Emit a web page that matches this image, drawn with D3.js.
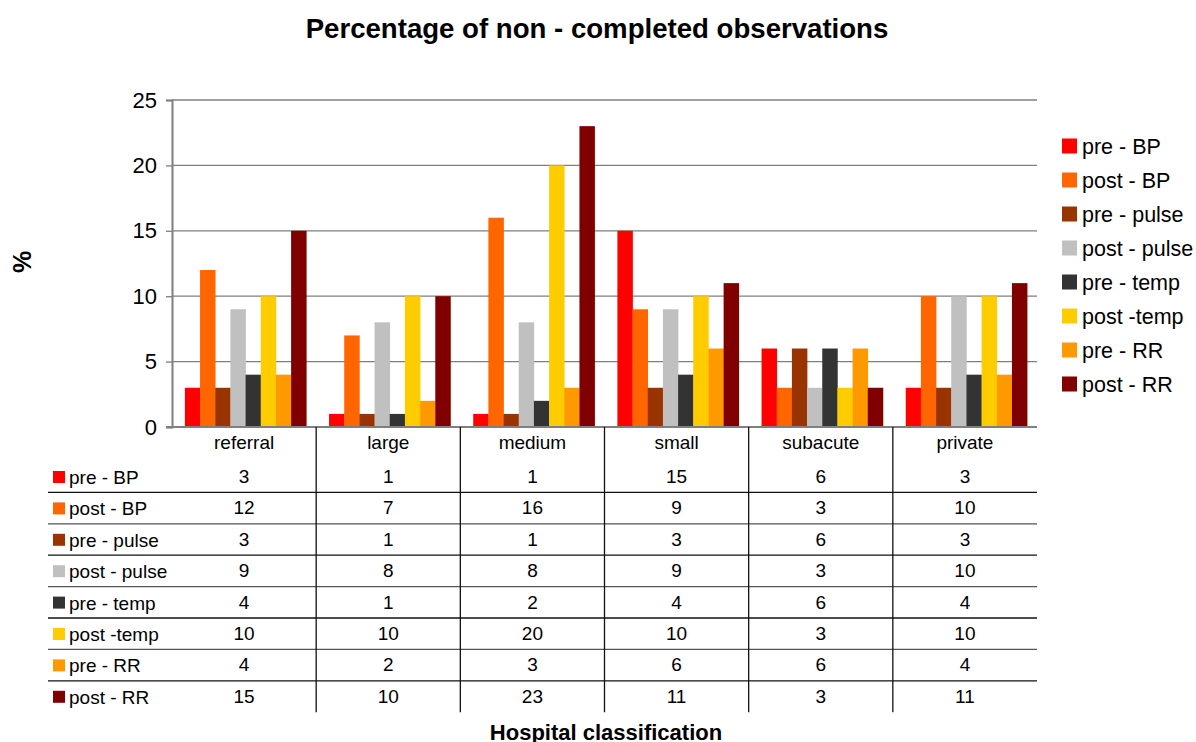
<!DOCTYPE html>
<html>
<head>
<meta charset="utf-8">
<script src="https://cdn.jsdelivr.net/npm/d3@7"></script>
<style>
  body { margin: 0; background: #fff; }
  svg { font-family: "Liberation Sans", Arial, sans-serif; }
</style>
</head>
<body>
<svg id="chart" width="1196" height="742"></svg>
<script>
// Hospital classes and observation series
const categories = ["referral", "large", "medium", "small", "subacute", "private"];
const seriesNames = ["pre - BP", "post - BP", "pre - pulse", "post - pulse", "pre - temp", "post -temp", "pre - RR", "post - RR"];
const seriesColors = ["#FF0000", "#FF6600", "#993300", "#C0C0C0", "#333333", "#FFCC00", "#FF9900", "#800000"];
const preBP    = [3, 1, 1, 15, 6, 3];
const postBP   = [12, 7, 16, 9, 3, 10];
const prePulse = [3, 1, 1, 3, 6, 3];
const postPulse= [9, 8, 8, 9, 3, 10];
const preTemp  = [4, 1, 2, 4, 6, 4];
const postTemp = [10, 10, 20, 10, 3, 10];
const preRR    = [4, 2, 3, 6, 6, 4];
const postRR   = [15, 10, 23, 11, 3, 11];
const yTicks = [0, 5, 10, 15, 20, 25];

const seriesValues = [preBP, postBP, prePulse, postPulse, preTemp, postTemp, preRR, postRR];
const series = seriesNames.map((name, i) => ({ name, color: seriesColors[i], values: seriesValues[i] }));

const svg = d3.select("#chart");
const plot = { left: 172, right: 1037, top: 100, bottom: 427 };

const x = d3.scaleBand().domain(categories).range([plot.left, plot.right]).paddingInner(0).paddingOuter(0);
// gap of 1.5 bar widths per category, split on both sides
const inner = x.bandwidth() * 8 / 9.5;
const xs = d3.scaleBand().domain(seriesNames).range([0, inner]).padding(0);
const offset = (x.bandwidth() - inner) / 2 + 1.5;
const y = d3.scaleLinear().domain([0, 25]).range([plot.bottom, plot.top]);

// Title
svg.append("text")
  .attr("x", 597).attr("y", 38)
  .attr("text-anchor", "middle")
  .attr("font-size", 27.6).attr("font-weight", "bold")
  .text("Percentage of non - completed observations");

// Gridlines
svg.append("g").selectAll("line").data(yTicks.filter(t => t > 0)).join("line")
  .attr("x1", plot.left).attr("x2", plot.right)
  .attr("y1", d => y(d)).attr("y2", d => y(d))
  .attr("stroke", "#7f7f7f").attr("stroke-width", 1.3);

// Y axis
const yAxis = svg.append("g")
  .attr("transform", `translate(${plot.left},0)`)
  .call(d3.axisLeft(y).tickValues(yTicks).tickSize(6).tickPadding(9));
yAxis.select(".domain").attr("stroke", "#7f7f7f").attr("stroke-width", 2);
yAxis.selectAll(".tick line").attr("stroke", "#7f7f7f").attr("stroke-width", 1.3);
yAxis.selectAll(".tick text")
  .attr("font-size", 22).attr("fill", "#000")
  .attr("font-family", "Liberation Sans, Arial, sans-serif");

// Y axis title
svg.append("text")
  .attr("transform", "translate(31,262) rotate(-90)")
  .attr("text-anchor", "middle")
  .attr("font-size", 25).attr("font-weight", "bold")
  .text("%");

// Bars
const groups = svg.append("g").selectAll("g").data(categories).join("g")
  .attr("transform", d => `translate(${x(d) + offset},0)`);
groups.selectAll("rect")
  .data((c, ci) => series.map(s => ({ s, v: s.values[ci] })))
  .join("rect")
  .attr("x", d => xs(d.s.name))
  .attr("width", xs.bandwidth() + 0.3)
  .attr("y", d => y(d.v))
  .attr("height", d => y(0) - y(d.v))
  .attr("fill", d => d.s.color);

// Category axis line
svg.append("line")
  .attr("x1", 166).attr("x2", plot.right)
  .attr("y1", plot.bottom).attr("y2", plot.bottom)
  .attr("stroke", "#7f7f7f").attr("stroke-width", 2);

// Data table
const rowH = 31.4;
const tableTop = 461;
const tableLeft = 48;
const tableBottom = tableTop + rowH * series.length;
const table = svg.append("g");

// Row separators
table.selectAll("line.row").data(d3.range(1, series.length)).join("line")
  .attr("class", "row")
  .attr("x1", tableLeft).attr("x2", plot.right)
  .attr("y1", i => tableTop + i * rowH).attr("y2", i => tableTop + i * rowH)
  .attr("stroke", (i) => i % 2 === 0 ? "#555" : "#111").attr("stroke-width", 1.3);

// Column separators
table.selectAll("line.col").data(categories.slice(1)).join("line")
  .attr("class", "col")
  .attr("x1", d => x(d)).attr("x2", d => x(d))
  .attr("y1", plot.bottom).attr("y2", tableBottom)
  .attr("stroke", "#111").attr("stroke-width", 1.3);

// Category labels
table.selectAll("text.cat").data(categories).join("text")
  .attr("class", "cat")
  .attr("x", d => x(d) + x.bandwidth() / 2)
  .attr("y", 449)
  .attr("text-anchor", "middle")
  .attr("font-size", 19)
  .text(d => d);

// Row keys and labels
const rows = table.selectAll("g.rowg").data(series).join("g")
  .attr("class", "rowg")
  .attr("transform", (d, i) => `translate(0,${tableTop + i * rowH})`);
rows.append("rect")
  .attr("x", 53).attr("y", 10).attr("width", 12).attr("height", 12)
  .attr("fill", d => d.color);
rows.append("text")
  .attr("x", 69).attr("y", 23)
  .attr("font-size", 19)
  .text(d => d.name);
rows.selectAll("text.val").data(d => d.values.map((v, ci) => ({ v, c: categories[ci] }))).join("text")
  .attr("class", "val")
  .attr("x", d => x(d.c) + x.bandwidth() / 2)
  .attr("y", 22)
  .attr("text-anchor", "middle")
  .attr("font-size", 19)
  .text(d => d.v);

// Right legend
const legend = svg.append("g").selectAll("g").data(series).join("g")
  .attr("transform", (d, i) => `translate(1062,${146 + i * 34})`);
legend.append("rect")
  .attr("x", 0).attr("y", -7.5).attr("width", 15).attr("height", 15)
  .attr("fill", d => d.color);
legend.append("text")
  .attr("x", 20).attr("y", 8)
  .attr("font-size", 21.5)
  .text(d => d.name);

// X axis title
svg.append("text")
  .attr("x", 606).attr("y", 740)
  .attr("text-anchor", "middle")
  .attr("font-size", 22).attr("font-weight", "bold")
  .text("Hospital classification");
</script>
</body>
</html>
